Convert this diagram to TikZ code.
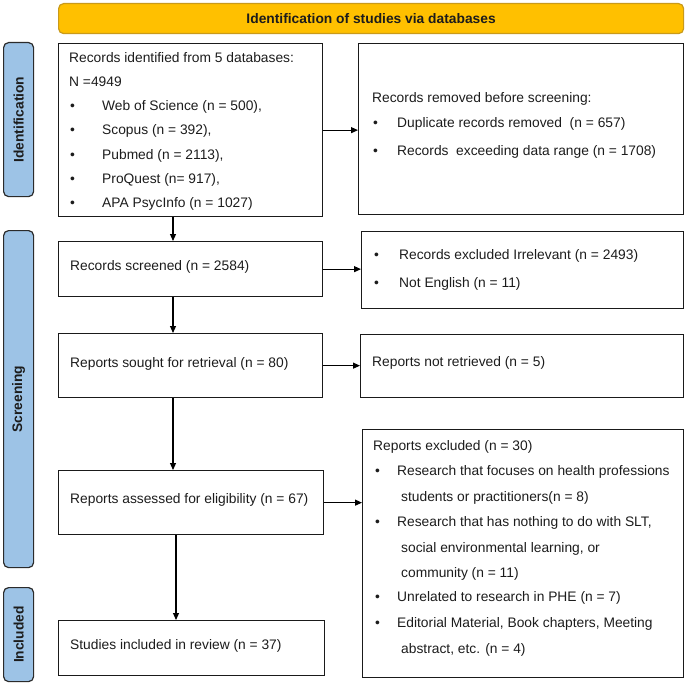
\documentclass[tikz,border=0pt]{standalone}
\usepackage{fontspec}
\setmainfont{Liberation Sans}
\usetikzlibrary{arrows.meta}
\definecolor{bannerfill}{HTML}{FFC000}
\definecolor{bannerline}{HTML}{C99A1A}
\definecolor{barblue}{HTML}{9DC3E6}
\definecolor{barline}{HTML}{2B2B2B}
\definecolor{boxline}{HTML}{1A1A1A}
\definecolor{txtcol}{HTML}{1C1C1C}
\begin{document}
\begin{tikzpicture}[x=1bp,y=-1bp,
  every node/.style={font=\fontsize{13.8bp}{16bp}\selectfont, text=txtcol},
  box/.style={draw=boxline, line width=1.3bp, inner sep=0pt, anchor=north west},
  bar/.style={draw=barline, fill=barblue, line width=1.2bp, rounded corners=5bp, inner sep=0pt, anchor=north west},
  barlabel/.style={font=\fontsize{13.8bp}{16bp}\selectfont\bfseries, rotate=90, inner sep=0pt},
  txt/.style={anchor=base west, inner sep=0pt},
  arr/.style={line width=1.1bp, draw=black, -{Triangle[length=7bp,width=6bp]}}
]
\useasboundingbox (0,0) rectangle (685,683);

% banner
\node[draw=bannerline, fill=bannerfill, line width=1.2bp, rounded corners=5bp, inner sep=0pt,
  anchor=north west, minimum width=625bp, minimum height=30bp] (banner) at (58,3) {};
\node[font=\fontsize{13.8bp}{16bp}\selectfont\bfseries, inner sep=0pt] (title) at (banner.center) {Identification of studies via databases};

% side bars
\node[bar, minimum width=30bp, minimum height=154bp] (barI) at (3,42) {};
\node[barlabel] (labI) at (barI.center) {Identification};
\node[bar, minimum width=30bp, minimum height=337bp] (barS) at (3,230) {};
\node[barlabel] (labS) at (barS.center) {Screening};
\node[bar, minimum width=30bp, minimum height=94bp] (barN) at (3,587) {};
\node[barlabel] (labN) at (barN.center) {Included};

% boxes
\node[box, minimum width=264bp, minimum height=173bp] (b1) at (58,43) {};
\node[box, minimum width=325bp, minimum height=171bp] (b2) at (358,43) {};
\node[box, minimum width=264bp, minimum height=55bp] (b3) at (58,241) {};
\node[box, minimum width=264bp, minimum height=64bp] (b4) at (58,333) {};
\node[box, minimum width=322bp, minimum height=77bp] (b5) at (361,231) {};
\node[box, minimum width=323bp, minimum height=63bp] (b6) at (360,334) {};
\node[box, minimum width=265bp, minimum height=64bp] (b7) at (58,470) {};
\node[box, minimum width=266bp, minimum height=55bp] (b8) at (58,620) {};
\node[box, minimum width=321bp, minimum height=248bp] (b9) at (362,429) {};

% box 1 text
\node[txt] (t1a) at (69,63) {Records identified from 5 databases:};
\node[txt] (t1b) at (69,87) {N =4949};
\node[txt] (t1c1) at (70,111) {•}; \node[txt] (t1c) at (102,111) {Web of Science (n = 500),};
\node[txt] (t1d1) at (70,135) {•}; \node[txt] (t1d) at (102,135) {Scopus (n = 392),};
\node[txt] (t1e1) at (70,159) {•}; \node[txt] (t1e) at (102,159) {Pubmed (n = 2113),};
\node[txt] (t1f1) at (70,183) {•}; \node[txt] (t1f) at (102,183) {ProQuest (n= 917),};
\node[txt] (t1g1) at (70,207) {•}; \node[txt] (t1g) at (102,207) {APA PsycInfo (n = 1027)};

% box 2 text
\node[txt] (t2a) at (372,103) {Records removed before screening:};
\node[txt] (t2b1) at (373,128) {•}; \node[txt] (t2b) at (397,128) {Duplicate records removed\ \ (n = 657)};
\node[txt] (t2c1) at (373,155) {•}; \node[txt] (t2c) at (397,155) {Records\ \ exceeding data range (n = 1708)};

% box 3,4
\node[txt] (t3) at (70,270) {Records screened (n = 2584)};
\node[txt] (t4) at (70,367) {Reports sought for retrieval (n = 80)};

% box 5
\node[txt] (t5a1) at (374,259) {•}; \node[txt] (t5a) at (399,259) {Records excluded Irrelevant (n = 2493)};
\node[txt] (t5b1) at (374,287) {•}; \node[txt] (t5b) at (399,287) {Not English (n = 11)};

% box 6,7,8
\node[txt] (t6) at (372,366) {Reports not retrieved (n = 5)};
\node[txt] (t7) at (70,503) {Reports assessed for eligibility (n = 67)};
\node[txt] (t8) at (70,649) {Studies included in review (n = 37)};

% box 9
\node[txt] (t9a) at (373,450) {Reports excluded (n = 30)};
\node[txt] (t9b1) at (375,475) {•}; \node[txt] (t9b) at (397,475) {Research that focuses on health professions};
\node[txt] (t9c) at (401,501) {students or practitioners(n = 8)};
\node[txt] (t9d1) at (375,526) {•}; \node[txt] (t9d) at (397,526) {Research that has nothing to do with SLT,};
\node[txt] (t9e) at (401,552) {social environmental learning, or};
\node[txt] (t9f) at (401,577) {community (n = 11)};
\node[txt] (t9g1) at (375,601) {•}; \node[txt] (t9g) at (397,601) {Unrelated to research in PHE (n = 7)};
\node[txt] (t9h1) at (375,627) {•}; \node[txt] (t9h) at (397,627) {Editorial Material, Book chapters, Meeting};
\node[txt] (t9i) at (401,653) {abstract, etc. (n = 4)};

% arrows
\draw[arr] (b1.east) -- (b1.east -| b2.west);
\draw[arr] (b3.east) -- (b3.east -| b5.west);
\draw[arr] (b4.east) -- (b4.east -| b6.west);
\draw[arr] (b7.east) -- (b7.east -| b9.west);
\draw[arr] ([xshift=115bp]b1.south west) -- ([xshift=115bp]b3.north west);
\draw[arr] ([xshift=115bp]b3.south west) -- ([xshift=115bp]b4.north west);
\draw[arr] ([xshift=115bp]b4.south west) -- ([xshift=115bp]b7.north west);
\draw[arr] ([xshift=118bp]b7.south west) -- ([xshift=118bp]b8.north west);
\end{tikzpicture}
\end{document}
